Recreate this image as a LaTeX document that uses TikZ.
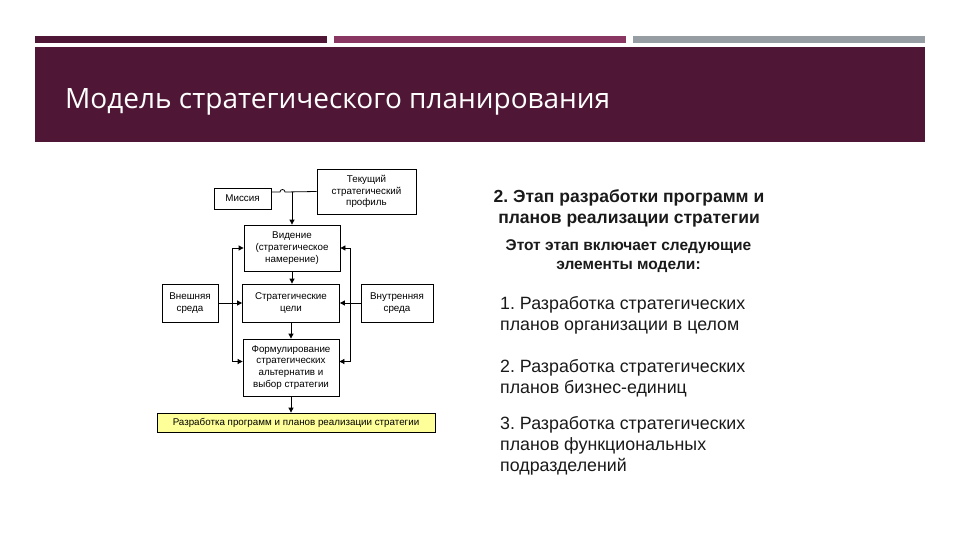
\documentclass[tikz,border=0pt]{standalone}
\usepackage{fontspec}
\setmainfont{Liberation Sans}
\newfontfamily\titlefont{Open Sans}
\usetikzlibrary{arrows.meta}
\definecolor{darkplum}{HTML}{4F1735}
\definecolor{midplum}{HTML}{8A3663}
\definecolor{bargray}{HTML}{969EA4}
\definecolor{boxyellow}{HTML}{FFFF99}
\definecolor{txtgray}{HTML}{1A1A1A}
\frenchspacing
\begin{document}
\begin{tikzpicture}[x=1pt,y=-1pt,
  box/.style={draw=black,line width=0.8pt,inner sep=0pt,align=center,
    font=\fontsize{9.8}{11.8}\selectfont},
  conn/.style={line width=0.8pt},
  arr/.style={line width=0.8pt,-{Triangle[length=5pt,width=5pt]}},
  headtxt/.style={inner sep=0pt,anchor=base,font=\bfseries\fontsize{17.5}{20}\selectfont,text=txtgray},
  subtxt/.style={inner sep=0pt,anchor=base,font=\bfseries\fontsize{15.5}{18}\selectfont,text=txtgray},
  itemtxt/.style={inner sep=0pt,anchor=base west,font=\fontsize{17.8}{20}\selectfont,text=txtgray}]
\useasboundingbox (0,0) rectangle (960,540);
\fill[white] (0,0) rectangle (960,540);
% top bars and band
\fill[darkplum] (35,36) rectangle (327,43);
\fill[midplum] (334,36) rectangle (626,43);
\fill[bargray] (633,36) rectangle (925,43);
\fill[darkplum] (35,47) rectangle (925,142);
\node[anchor=base west,inner sep=0pt,text=white,font=\titlefont\fontsize{28}{32}\selectfont] (title) at (65,109) {Модель стратегического планирования};
% diagram boxes
\node[box,minimum width=57pt,minimum height=21pt] (mis) at (242.5,198.5) {Миссия};
\node[box,minimum width=99pt,minimum height=45pt] (prof) at (366.5,191.5) {Текущий\\стратегический\\профиль};
\node[box,minimum width=96pt,minimum height=46pt] (vis) at (292,248) {Видение\\(стратегическое\\намерение)};
\node[box,minimum width=56pt,minimum height=38pt] (ext) at (190,303) {Внешняя\\среда};
\node[box,minimum width=97pt,minimum height=38pt] (goals) at (291,303) {Стратегические\\цели};
\node[box,minimum width=72pt,minimum height=38pt] (int) at (397,303) {Внутренняя\\среда};
\node[box,minimum width=96pt,minimum height=57pt] (form) at (291,367.5) {Формулирование\\стратегических\\альтернатив и\\выбор стратегии};
\node[box,fill=boxyellow,minimum width=278pt,minimum height=19pt] (dev) at (296,422.5) {Разработка программ и планов реализации стратегии};
% connectors
\coordinate (j) at (292,192);
\coordinate (L) at (232,303);
\coordinate (R) at (350,303);
\draw[conn] ([yshift=6.5pt]mis.east) -- (280,192) arc[start angle=180,end angle=0,radius=2.5pt] -- (prof.west);
\draw[arr] (j) -- (vis.north);
\draw[arr] (vis.south) -- (vis.south |- goals.north);
\draw[arr] (goals.south) -- (goals.south |- form.north);
\draw[arr] (form.south) -- (form.south |- dev.north);
\draw[arr] (ext.east) -- (goals.west);
\draw[arr] (int.west) -- (goals.east);
\draw[arr] (L) |- (vis.west);
\draw[arr] (L) |- ([yshift=6pt]form.west);
\draw[arr] (R) |- (vis.east);
\draw[arr] (R) |- ([yshift=6pt]form.east);
% right text
\node[headtxt] (h1) at (629,202) {2. Этап разработки программ и};
\node[headtxt] (h2) at (629,223) {планов реализации стратегии};
\node[subtxt] (s1) at (628.5,250) {Этот этап включает следующие};
\node[subtxt] (s2) at (628.5,269) {элементы модели:};
\node[itemtxt] (a1) at (500,309) {1. Разработка стратегических};
\node[itemtxt] (a2) at (500,330) {планов организации в целом};
\node[itemtxt] (b1) at (500,372) {2. Разработка стратегических};
\node[itemtxt] (b2) at (500,393) {планов бизнес-единиц};
\node[itemtxt] (c1) at (500,429) {3. Разработка стратегических};
\node[itemtxt] (c2) at (500,450) {планов функциональных};
\node[itemtxt] (c3) at (500,471) {подразделений};
\end{tikzpicture}
\end{document}
